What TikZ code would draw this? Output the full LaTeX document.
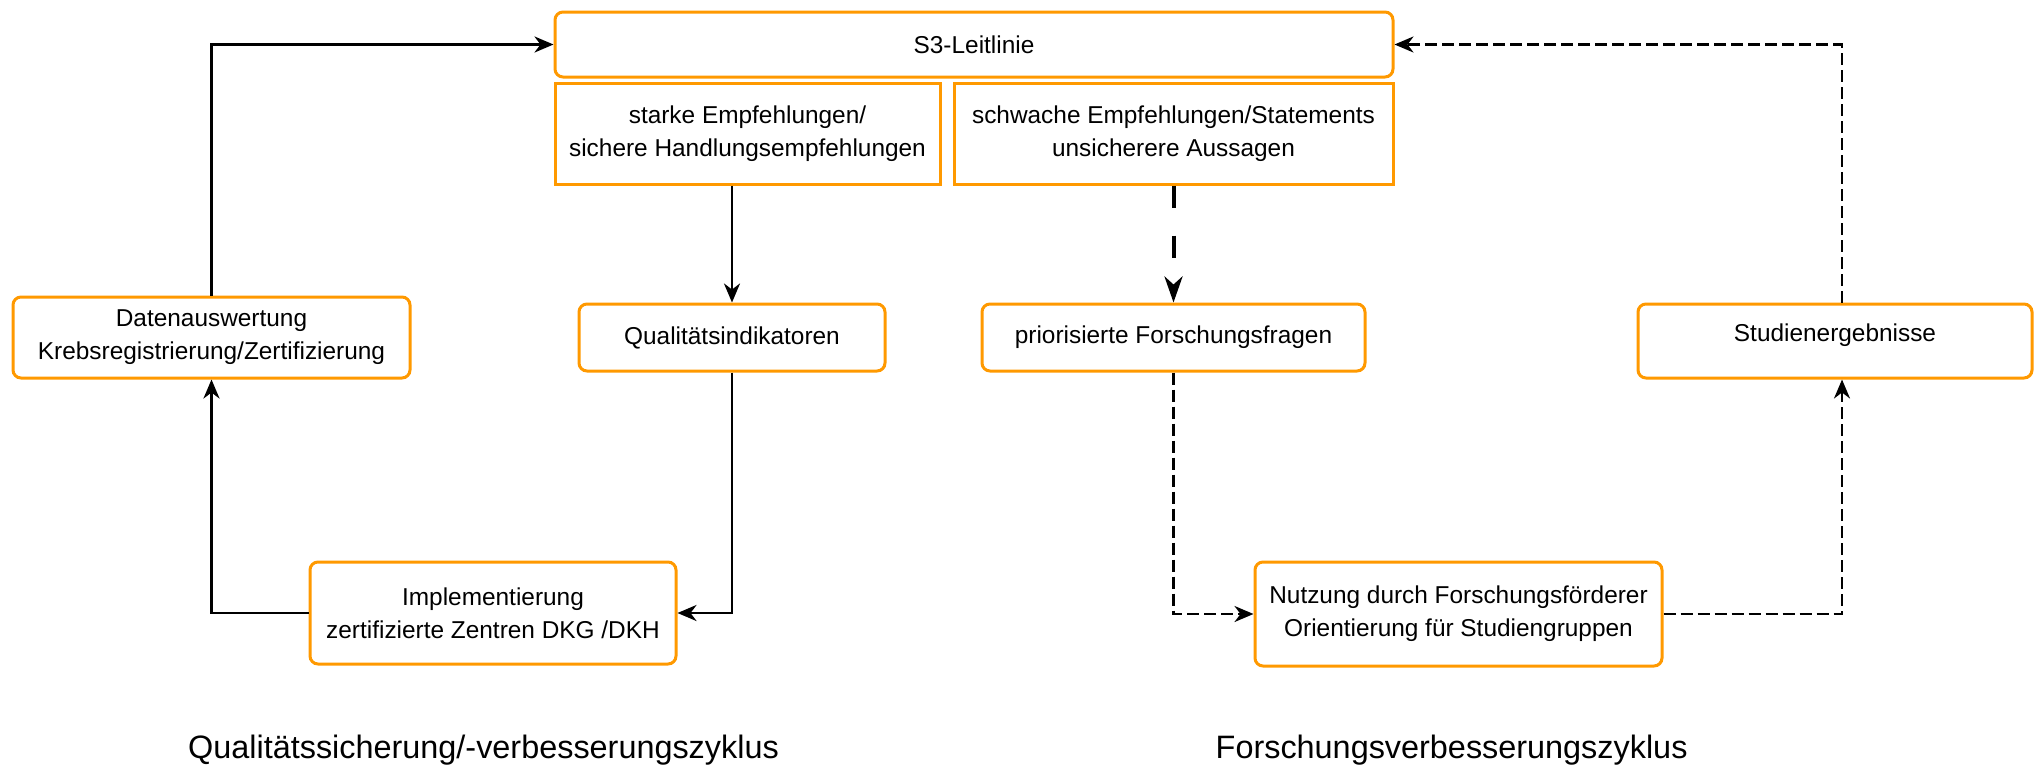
\documentclass[tikz,border=0pt]{standalone}
\usepackage{fontspec}
\setmainfont{Liberation Sans}
\usetikzlibrary{arrows.meta,calc}
\definecolor{boxorange}{RGB}{255,153,0}
\tikzset{
  box/.style={draw=boxorange, line width=1.5pt, fill=white, align=center,
    font=\fontsize{12.2}{16.5}\selectfont, inner sep=0pt},
  rbox/.style={box, rounded corners=4pt},
  conn/.style={line width=1.4pt, -{Stealth[length=9.5pt,width=8pt,inset=3pt]}},
  dconn/.style={conn, line width=1.3pt, dash pattern=on 6pt off 2.5pt},
  tconn/.style={line width=2pt, dash pattern=on 11pt off 14pt,
    -{Stealth[length=13pt,width=9pt,inset=4pt]}},
  cyclelabel/.style={font=\fontsize{16.2}{20}\selectfont, inner sep=0pt}
}
\begin{document}
\begin{tikzpicture}[x=0.5pt,y=-0.5pt]
\useasboundingbox (0,0) rectangle (2035,771);
% boxes
\node[rbox, minimum width=419pt, minimum height=32.5pt] (s3) at (974,44.5) {S3-Leitlinie};
\node[box, minimum width=192.5pt, minimum height=50.5pt] (starke) at (747.5,133.5)
  {starke Empfehlungen/\\sichere Handlungsempfehlungen};
\node[box, minimum width=219.5pt, minimum height=50.5pt] (schwache) at (1173.5,133.5)
  {schwache Empfehlungen/Statements\\unsicherere Aussagen};
\node[rbox, minimum width=198.5pt, minimum height=40.5pt] (daten) at (211.5,337.5)
  {Datenauswertung\\Krebsregistrierung/Zertifizierung};
\node[rbox, minimum width=153pt, minimum height=33.5pt] (quali) at (732,337.5)
  {Qualitätsindikatoren};
\node[rbox, minimum width=191.5pt, minimum height=33.5pt] (prior) at (1173.5,337.5)
  {priorisierte Forschungsfragen};
\node[rbox, minimum width=197pt, minimum height=37pt] (stud) at (1835,341)
  {\smash{Studienergebnisse}};
\node[rbox, minimum width=183pt, minimum height=51pt] (impl) at (493,613)
  {Implementierung\\zertifizierte Zentren DKG /DKH};
\node[rbox, minimum width=203.5pt, minimum height=52pt] (nutz) at (1458.5,614)
  {Nutzung durch Forschungsförderer\\Orientierung für Studiengruppen};
% cycle labels
\node[cyclelabel] (qlabel) at (483.5,750) {Qualitätssicherung/-verbesserungszyklus};
\node[cyclelabel] (flabel) at (1451.6,750) {Forschungsverbesserungszyklus};
% helper coordinates
\coordinate (studbot) at ($(stud.south)+(7,0)$);
\coordinate (studtop) at ($(stud.north)+(7,0)$);
% connectors: quality cycle
\draw[conn] (daten.north) |- (s3.west);
\draw[conn] (starke.south -| quali.north) -- (quali.north);
\draw[conn] (quali.south) |- (impl.east);
\draw[conn] (impl.west) -| (daten.south);
% connectors: research cycle
\draw[tconn] (schwache.south) -- (prior.north);
\draw[dconn] (prior.south) |- (nutz.west);
\draw[dconn] (nutz.east) -| (studbot);
\draw[dconn] (studtop) |- (s3.east);
\end{tikzpicture}
\end{document}
